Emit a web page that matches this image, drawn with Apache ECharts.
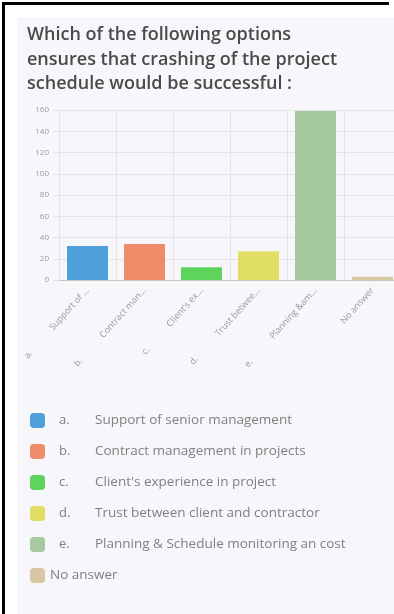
<!DOCTYPE html>
<html>
<head>
<meta charset="utf-8">
<script src="https://cdn.jsdelivr.net/npm/echarts@6/dist/echarts.min.js"></script>
<style>
  html, body { margin: 0; padding: 0; background: #fff; }
  #frame {
    position: absolute; left: 2px; top: 2px; width: 387px; height: 612px;
    border-top: 3px solid #000; border-left: 3px solid #000; box-sizing: border-box;
  }
  #panel {
    position: absolute; left: 17px; top: 17px; right: 0; bottom: 0;
    background: #f7f7fb;
  }
  #chart { position: absolute; left: 0; top: 0; width: 394px; height: 614px; }
</style>
</head>
<body>
<div id="frame"></div>
<div id="panel"></div>
<div id="chart"></div>
<script>
// Survey answers: option letter, full wording, shortened axis wording, count, colour
const letters = ['a.', 'b.', 'c.', 'd.', 'e.', ''];
const answers = [
  'Support of senior management',
  'Contract management in projects',
  "Client's experience in project",
  'Trust between client and contractor',
  'Planning & Schedule monitoring an cost',
  'No answer'
];
const shortLabels = [
  'Support of ...',
  'Contract man...',
  "Client's ex...",
  'Trust betwee...',
  'Planning &am...',
  'No answer'
];
const counts = [32, 34, 12, 27, 159, 3];
const colors = ['#4f9fdb', '#f08b69', '#5ed35e', '#e0df63', '#a6c9a2', '#d9c6a3'];
const yTicks = { min: 0, max: 160, interval: 20 };

const categories = answers.map((a, i) => i);
const gap = (n) => '\u00a0'.repeat(n);

// one series per answer so each gets its own legend entry; stacked so bars stay centred
const series = answers.map((name, i) => ({
  name: name,
  type: 'bar',
  stack: 'all',
  barWidth: 41,
  itemStyle: { color: colors[i] },
  data: counts.map((v, j) => (j === i ? v : '-'))
}));

const chart = echarts.init(document.getElementById('chart'), null, { renderer: 'canvas' });
chart.setOption({
  backgroundColor: 'transparent',
  animation: false,
  title: {
    text: 'Which of the following options\nensures that crashing of the project\nschedule would be successful :',
    left: 22,
    top: 18,
    textStyle: {
      fontFamily: 'Open Sans',
      fontSize: 18,
      fontWeight: 600,
      color: '#4a4a4a',
      lineHeight: 24.5
    }
  },
  grid: { left: 59, width: 342, top: 110, height: 170, containLabel: false, outerBoundsMode: 'none' },
  xAxis: {
    type: 'category',
    data: categories,
    axisLine: { lineStyle: { color: '#cbc3bc' } },
    axisTick: { show: false },
    splitLine: { show: true, interval: 0, lineStyle: { color: '#e4e4ea' } },
    axisLabel: {
      interval: 0,
      rotate: 48,
      margin: 9,
      fontSize: 9,
      color: '#999',
      fontFamily: 'Open Sans',
      formatter: (v) => {
        const i = Number(v);
        return letters[i] ? letters[i] + gap(13) + shortLabels[i] : shortLabels[i];
      }
    }
  },
  yAxis: {
    type: 'value',
    min: yTicks.min,
    max: yTicks.max,
    interval: yTicks.interval,
    axisLine: { show: false },
    axisTick: { show: true, length: 6, lineStyle: { color: '#e4e4ea' } },
    splitLine: { lineStyle: { color: '#e4e4ea' } },
    axisLabel: { fontSize: 8, color: '#9a9a9a', margin: 10, fontFamily: 'Open Sans' }
  },
  legend: {
    orient: 'vertical',
    left: 25,
    top: 408,
    itemWidth: 15,
    itemHeight: 15,
    itemGap: 16,
    icon: 'roundRect',
    selectedMode: false,
    data: answers,
    formatter: (name) => {
      const i = answers.indexOf(name);
      return letters[i] ? '{p|' + gap(1) + '}{k|' + letters[i] + '}{t|' + name + '}' : '{t|' + name + '}';
    },
    textStyle: {
      rich: {
        p: { fontSize: 13, width: 9 },
        k: { fontSize: 13, color: '#808080', width: 36, fontFamily: 'Open Sans' },
        t: { fontSize: 13.5, color: '#808080', fontFamily: 'Open Sans' }
      }
    }
  },
  series: series
});
</script>
</body>
</html>
